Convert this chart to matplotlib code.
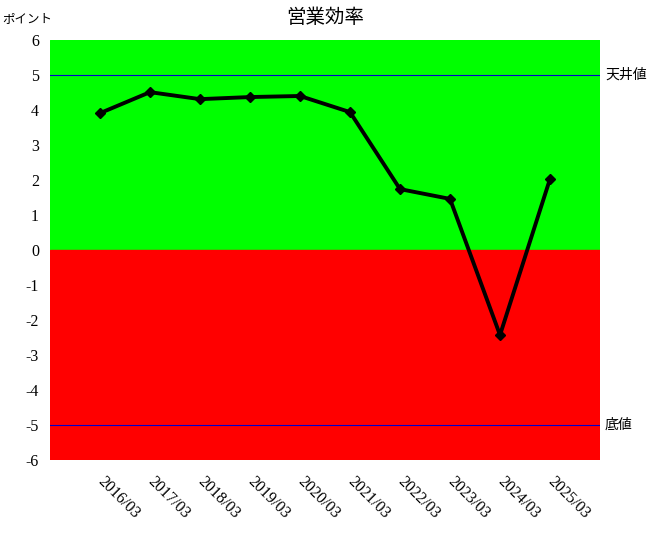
import matplotlib
matplotlib.use("Agg")
import matplotlib.pyplot as plt
import numpy as np

plt.rcParams['font.family'] = ['Liberation Serif', 'Noto Sans CJK JP']

# data
periods = ['2016/03', '2017/03', '2018/03', '2019/03', '2020/03',
           '2021/03', '2022/03', '2023/03', '2024/03', '2025/03']
efficiency = [3.91, 4.51, 4.31, 4.37, 4.40, 3.94, 1.74, 1.46, -2.43, 2.03]
ceiling = 5
floor = -5

fig = plt.figure(figsize=(6.5, 5.4), dpi=100)
ax = fig.add_axes([50 / 650, 80 / 540, 550 / 650, 420 / 540])

x = np.arange(1, len(periods) + 1)
ax.set_xlim(0, len(periods) + 1)
ax.set_ylim(-6, 6)

# background bands
ax.axhspan(0, 6, color='#00ff00', zorder=0)
ax.axhspan(-6, 0, color='#ff0000', zorder=0)

# ceiling / floor lines
ax.axhline(ceiling, color='#0000cc', lw=0.8, zorder=1)
ax.axhline(floor, color='#0000cc', lw=0.8, zorder=1)
ax.text(len(periods) + 1.1, ceiling, '天井値', va='center', ha='left', fontsize=10)
ax.text(len(periods) + 1.1, floor, '底値', va='center', ha='left', fontsize=10)

ax.plot(x, efficiency, color='black', lw=2.8, marker='D', markersize=5.5, zorder=3)

ax.set_xticks(x)
ax.set_xticklabels(periods, rotation=-45, ha='left', va='center', rotation_mode='anchor', fontsize=11.5)
ax.set_yticks(range(-6, 7))
ax.set_yticklabels([str(v) for v in range(-6, 7)], fontsize=11.5)
ax.tick_params(length=0, pad=8)
ax.tick_params(axis='x', pad=14)
for s in ax.spines.values():
    s.set_visible(False)

fig.text(325 / 650, 1 - 18 / 540, '営業効率', ha='center', va='center', fontsize=14)
fig.text(2 / 650, 1 - 19 / 540, 'ポイント', ha='left', va='center', fontsize=9)

fig.savefig('out.png', dpi=100)
